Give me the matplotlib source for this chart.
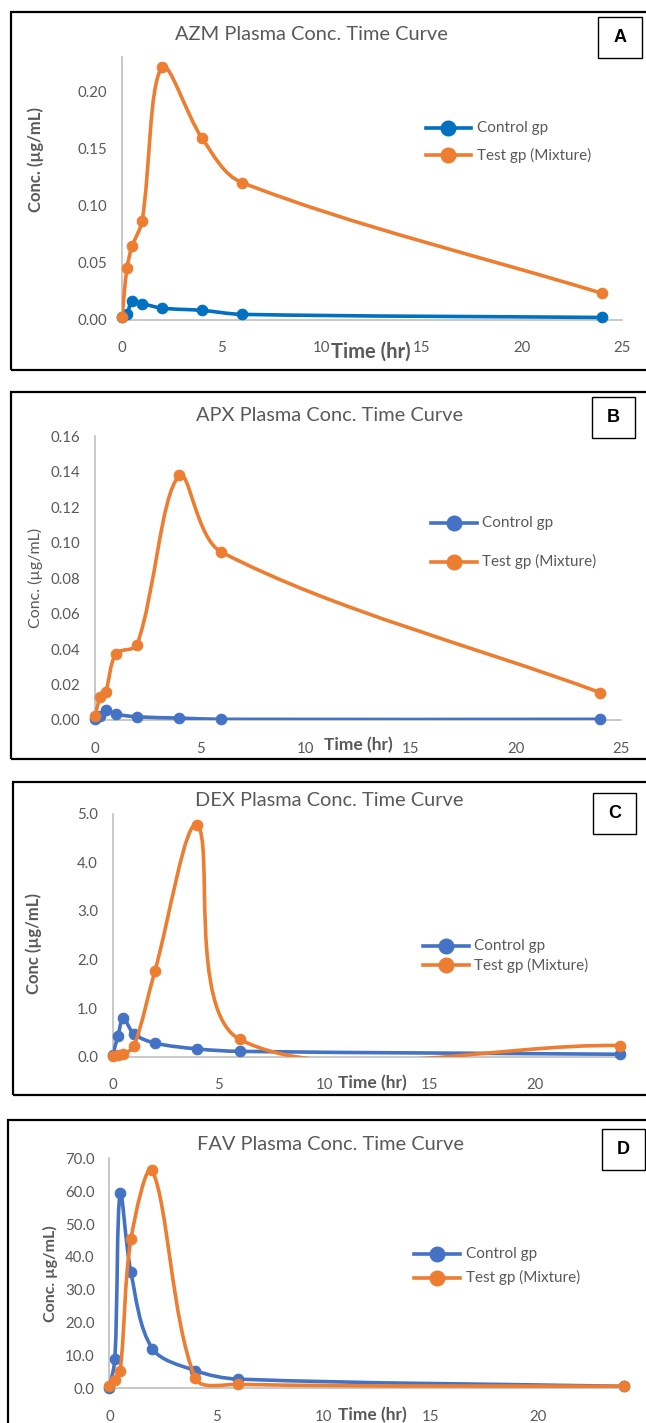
import numpy as np
import matplotlib
matplotlib.use("Agg")
import matplotlib.pyplot as plt
from matplotlib.path import Path
from matplotlib.patches import PathPatch, Rectangle
from matplotlib.lines import Line2D

plt.rcParams['font.family'] = ['Lato', 'DejaVu Sans']

W, H = 646, 1423

# sampling times (hr)
time_hr = [0, 0.25, 0.5, 1, 2, 4, 6, 24]

# AZM (ug/mL)
azm_control = [0.002, 0.005, 0.016, 0.014, 0.010, 0.008, 0.0045, 0.0018]
azm_test = [0.002, 0.045, 0.064, 0.086, 0.221, 0.159, 0.120, 0.023]

# APX (ug/mL)
apx_control = [0.0005, 0.002, 0.0055, 0.0033, 0.0018, 0.0011, 0.0004, 0.0004]
apx_test = [0.0025, 0.0127, 0.0157, 0.0374, 0.0425, 0.138, 0.0948, 0.0155]

# DEX (ug/mL)
dex_control = [0.03, 0.43, 0.79, 0.47, 0.28, 0.16, 0.11, 0.05]
dex_test = [0.01, 0.03, 0.06, 0.21, 1.77, 4.76, 0.36, 0.23]

# FAV (ug/mL)
fav_control = [0.2, 8.9, 59.5, 35.3, 12.1, 5.4, 2.8, 0.6]
fav_test = [0.6, 2.6, 5.4, 45.3, 66.3, 3.1, 1.2, 0.6]

TEXT_GREY = '#595959'
ORANGE = '#ED7D31'


def fx(x):
    return x / W


def fy(y):
    return 1 - y / H


def excel_smooth(x, y, sx, sy):
    """Bezier path for a 'smoothed line' series; control arms weighted by
    chord length (screen units) and limited to half the segment."""
    pts = np.column_stack([x, y]).astype(float)
    scale = np.array([sx, sy])
    n = len(pts)

    def dist(a, b):
        return float(np.hypot(*((b - a) * scale)))

    verts, codes = [pts[0]], [Path.MOVETO]
    for i in range(n - 1):
        p0, p1, p2 = pts[max(i - 1, 0)], pts[i], pts[i + 1]
        p3 = pts[min(i + 2, n - 1)]
        d01, d12, d23 = dist(p0, p1), dist(p1, p2), dist(p2, p3)
        d02, d13 = dist(p0, p2), dist(p1, p3)
        f0 = d12 / (d01 + d12) / 3
        f3 = d12 / (d12 + d23) / 3
        if d02 > 0:
            f0 = min(f0, d12 / (2 * d02))
        if d13 > 0:
            f3 = min(f3, d12 / (2 * d13))
        verts += [p1 + f0 * (p2 - p0), p2 - f3 * (p3 - p1), p2]
        codes += [Path.CURVE4] * 3
    return Path(verts, codes)


fig = plt.figure(figsize=(W / 100, H / 100), dpi=100)

panels = [
    dict(name='AZM', ctrl=azm_control, test=azm_test, blue='#0070C0',
         box=(122, 57, 621.7, 319.5), xmax=25, ymax=0.23, yticks=np.arange(0, 0.201, 0.05), yfmt='{:.2f}',
         frame=(10.5, 12, 370), letter='A', lbox=(598, 17, 642, 58),
         title=(311.5, 34), ylabel='Conc. (µg/mL)', ylab_bold=True, ylab_pos=(35.8, 160), ylab_size=12,
         xlab_pos=(371, 352), xlab_size=14.5, leg=(425.6, 471, 476.7, 128.3, 155)),
    dict(name='APX', ctrl=apx_control, test=apx_test, blue='#4472C4',
         box=(95, 436.5, 621, 720), xmax=25, ymax=0.16, yticks=np.arange(0, 0.161, 0.02), yfmt='{:.2f}',
         frame=(11, 391.7, 759), letter='B', lbox=(592, 397, 635, 438),
         title=(329.6, 415.7), ylabel='Conc. (µg/mL)', ylab_bold=False, ylab_pos=(35, 578), ylab_size=11.5,
         xlab_pos=(358, 745), xlab_size=12.5, leg=(430.6, 476.7, 482, 523.3, 561.7)),
    dict(name='DEX', ctrl=dex_control, test=dex_test, blue='#4472C4',
         box=(112.7, 813.5, 620, 1056.7), xmax=24, ymax=5.0, yticks=np.arange(0, 5.01, 1.0), yfmt='{:.1f}',
         frame=(12.8, 781.7, 1095), letter='C', lbox=(593, 793, 636, 834),
         title=(329.6, 800.7), ylabel='Conc (µg/mL)', ylab_bold=True, ylab_pos=(34.2, 944), ylab_size=12,
         xlab_pos=(372.5, 1083.3), xlab_size=12.5, leg=(423, 468.5, 473.8, 946, 965)),
    dict(name='FAV', ctrl=fav_control, test=fav_test, blue='#4472C4',
         box=(109.5, 1158.3, 623.5, 1388.3), xmax=24, ymax=70, yticks=np.arange(0, 70.1, 10), yfmt='{:.1f}',
         frame=(8.2, 1120, 1440), letter='D', lbox=(601.6, 1129, 645, 1170),
         title=(330.5, 1144), ylabel='Conc. µg/mL)', ylab_bold=True, ylab_pos=(50.3, 1274), ylab_size=11.5,
         xlab_pos=(372.5, 1415), xlab_size=12.5, leg=(414, 460, 465.6, 1254, 1277.7)),
]

for p in panels:
    l, t, r, b = p['box']
    ax = fig.add_axes([fx(l), fy(b), (r - l) / W, (b - t) / H])
    ax.set_xlim(0, p['xmax'])
    ax.set_ylim(0, p['ymax'])
    sx = (r - l) / p['xmax']
    sy = (b - t) / p['ymax']

    for vals, col, z in [(p['ctrl'], p['blue'], 3), (p['test'], ORANGE, 5)]:
        path = excel_smooth(time_hr, vals, sx, sy)
        ax.add_patch(PathPatch(path, facecolor='none', edgecolor=col, lw=2.6,
                               capstyle='round', joinstyle='round', zorder=z))
        ax.plot(time_hr, vals, 'o', color=col, ms=7.6, mew=0.8, clip_on=False, zorder=z + 1)

    ax.set_xticks(range(0, 21 if p['xmax'] == 24 else 26, 5))
    ax.set_yticks(p['yticks'])
    ax.set_yticklabels([p['yfmt'].format(v) for v in p['yticks']])
    ax.tick_params(length=0, labelsize=10.8, colors=TEXT_GREY)
    ax.tick_params(axis='y', pad=10.5)
    ax.tick_params(axis='x', pad=15.5)
    for s in ['top', 'right']:
        ax.spines[s].set_visible(False)
    for s in ['left', 'bottom']:
        ax.spines[s].set_color('#BFBFBF')
        ax.spines[s].set_linewidth(1.2)
    ax.patch.set_alpha(0)

    # titles and axis labels
    fig.text(fx(p['title'][0]), fy(p['title'][1]), f"{p['name']} Plasma Conc. Time Curve",
             ha='center', va='center', fontsize=14.4, color=TEXT_GREY)
    fig.text(fx(p['ylab_pos'][0]), fy(p['ylab_pos'][1]), p['ylabel'], rotation=90,
             ha='center', va='center', fontsize=p['ylab_size'], color=TEXT_GREY,
             fontweight='bold' if p['ylab_bold'] else 'normal')
    fig.text(fx(p['xlab_pos'][0]), fy(p['xlab_pos'][1]), 'Time (hr)', ha='center', va='center',
             fontsize=p['xlab_size'], color=TEXT_GREY, fontweight='bold')

    # legend
    x1, x2, xt, ya, yb = p['leg']
    for yy, col, lab in [(ya, p['blue'], 'Control gp'), (yb, ORANGE, 'Test gp (Mixture)')]:
        fig.add_artist(Line2D([fx(x1), fx(x2)], [fy(yy), fy(yy)], color=col, lw=2.6,
                              transform=fig.transFigure))
        fig.add_artist(Line2D([fx((x1 + x2) / 2)], [fy(yy)], marker='o', ms=10.5, color=col,
                              transform=fig.transFigure))
        fig.text(fx(xt), fy(yy), lab, ha='left', va='center', fontsize=11, color=TEXT_GREY)

    # outer frame (open on the right, cut by the page)
    fl, ft, fb = p['frame']
    fig.add_artist(Rectangle((fx(fl), fy(fb)), (W + 20 - fl) / W, (fb - ft) / H, fill=False,
                             ec='black', lw=1.6, transform=fig.transFigure))
    # panel letter
    bl, bt, br, bb = p['lbox']
    fig.add_artist(Rectangle((fx(bl), fy(bb)), (br - bl) / W, (bb - bt) / H, fill=False,
                             ec='black', lw=1.0, transform=fig.transFigure))
    fig.text(fx((bl + br) / 2), fy((bt + bb) / 2), p['letter'], ha='center', va='center',
             fontsize=13, fontweight='bold', family=['Liberation Sans', 'DejaVu Sans'])

fig.savefig('out.png', dpi=100)
